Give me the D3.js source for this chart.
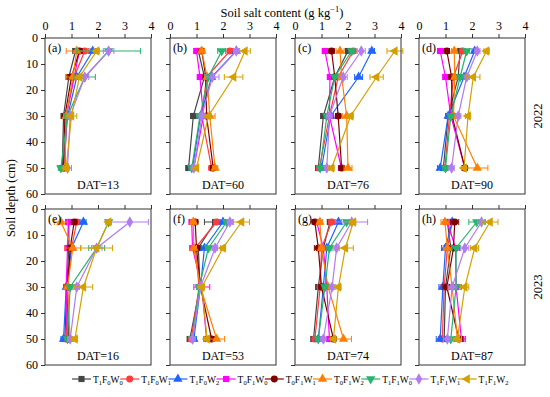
<!DOCTYPE html>
<html>
<head>
<meta charset="utf-8">
<script src="https://cdn.jsdelivr.net/npm/d3@7"></script>
<style>
  body { margin: 0; background: #fff; }
  svg text { font-family: "Liberation Serif", "DejaVu Serif", serif; fill: #000; }
</style>
</head>
<body>
<svg width="550" height="397"></svg>
<script>
// depths (cm) and series
var depths = [5, 15, 30, 50];
var seriesNames = [["1","0","0"],["1","0","1"],["1","0","2"],["0","1","0"],["0","1","1"],["0","1","2"],["1","1","0"],["1","1","1"],["1","1","2"]];
var seriesColors = ["#454545","#ff3b3b","#1f64ff","#ff00ff","#800000","#ff8000","#26b36b","#b07cf0","#d4a000"];
var panelTags = ["(a)","(b)","(c)","(d)","(e)","(f)","(g)","(h)"];
var datDays = [13, 60, 76, 90, 16, 53, 74, 87];
var xTicks = [0, 1, 2, 3, 4];
var yTicks = [0, 10, 20, 30, 40, 50, 60];

// mean salt content, one row per series, columns = depths
var meanA = [[1.15,0.9,0.7,0.65],[1.5,1.1,0.8,0.75],[1.8,1.2,0.85,0.7],[1.3,1.1,0.8,0.75],[1.3,1.0,0.75,0.7],[1.2,1.05,0.8,0.75],[2.4,1.5,0.85,0.6],[2.4,1.5,0.95,0.85],[1.95,1.3,1.0,0.8]];
var errA  = [[0.1,0.1,0.05,0.05],[0.15,0.1,0.05,0.05],[0.1,0.1,0.05,0.05],[0.1,0.1,0.05,0.05],[0.1,0.1,0.05,0.05],[0.4,0.25,0.1,0.1],[1.2,0.4,0.1,0.1],[0.2,0.15,0.1,0.15],[0.1,0.1,0.2,0.1]];
var meanB = [[1.07,1.3,0.88,0.7],[2.26,1.38,1.2,1.57],[2.5,1.57,1.15,0.85],[1.0,1.13,1.26,0.9],[1.2,1.35,1.38,1.63],[1.2,1.4,1.5,1.7],[1.95,1.45,1.13,0.82],[2.5,1.6,1.2,0.9],[2.83,2.4,1.45,1.0]];
var errB  = [[0.1,0.1,0.1,0.1],[0.1,0.1,0.1,0.1],[0.1,0.1,0.1,0.1],[0.1,0.1,0.1,0.1],[0.1,0.1,0.1,0.1],[0.1,0.1,0.2,0.1],[0.15,0.1,0.1,0.1],[0.1,0.25,0.1,0.1],[0.2,0.35,0.1,0.05]];
var meanC = [[2.0,1.5,1.07,0.88],[2.2,1.63,1.3,0.92],[2.9,2.4,1.35,1.0],[1.13,1.32,1.3,1.75],[1.38,1.5,1.63,1.76],[1.7,1.76,1.95,2.0],[2.14,1.5,1.2,0.95],[2.5,1.82,1.3,1.2],[3.77,3.08,2.1,1.38]];
var errC  = [[0.1,0.1,0.1,0.1],[0.1,0.1,0.1,0.1],[0.1,0.15,0.1,0.1],[0.1,0.1,0.1,0.1],[0.1,0.1,0.1,0.1],[0.15,0.1,0.15,0.15],[0.1,0.1,0.1,0.1],[0.15,0.15,0.1,0.1],[0.3,0.25,0.1,0.1]];
var meanD = [[1.55,1.48,1.1,0.92],[1.65,1.3,1.15,0.98],[2.1,1.7,1.1,0.8],[0.8,1.0,1.2,1.73],[1.05,1.23,1.25,1.73],[1.33,1.35,1.3,2.2],[1.8,1.55,1.2,1.0],[2.2,1.8,1.48,1.23],[2.55,2.05,1.85,1.7]];
var errD  = [[0.1,0.1,0.1,0.1],[0.1,0.1,0.1,0.1],[0.1,0.1,0.1,0.1],[0.1,0.1,0.1,0.1],[0.1,0.1,0.1,0.1],[0.1,0.1,0.1,0.4],[0.1,0.1,0.1,0.1],[0.1,0.1,0.1,0.1],[0.1,0.25,0.1,0.1]];
var meanE = [[0.9,0.9,0.82,0.75],[1.2,1.0,0.85,0.8],[1.45,1.0,0.8,0.7],[0.88,0.85,0.8,0.85],[1.1,0.95,0.85,0.9],[0.6,1.05,0.85,0.95],[2.4,1.95,0.95,0.85],[3.2,1.95,1.2,0.95],[2.4,1.95,1.45,1.13]];
var errE  = [[0.1,0.1,0.1,0.1],[0.1,0.1,0.1,0.1],[0.1,0.1,0.1,0.1],[0.1,0.1,0.1,0.1],[0.1,0.1,0.1,0.1],[0.25,0.3,0.1,0.1],[0.1,0.3,0.1,0.1],[0.7,0.2,0.1,0.1],[0.1,0.6,0.35,0.1]];
var meanF = [[1.7,1.07,1.13,0.75],[1.76,0.95,1.1,0.8],[2.0,1.3,1.15,0.9],[0.82,0.85,1.2,1.38],[0.95,1.0,1.15,1.57],[0.88,0.9,1.15,1.76],[2.14,1.45,1.1,0.85],[2.26,1.7,1.15,0.85],[2.7,2.0,1.2,1.4]];
var errF  = [[0.4,0.1,0.1,0.1],[0.1,0.1,0.1,0.1],[0.1,0.1,0.1,0.1],[0.1,0.1,0.3,0.1],[0.1,0.1,0.1,0.1],[0.1,0.1,0.1,0.3],[0.1,0.1,0.1,0.1],[0.1,0.1,0.1,0.1],[0.3,0.1,0.1,0.1]];
var meanG = [[1.32,1.07,0.88,0.7],[1.38,1.0,0.95,0.75],[1.64,1.2,1.07,0.88],[0.82,1.07,1.2,1.3],[0.75,0.88,1.0,1.45],[0.94,1.0,1.25,1.83],[1.95,1.3,1.13,0.88],[2.14,1.57,1.4,1.07],[2.2,1.9,1.64,1.45]];
var errG  = [[0.1,0.1,0.1,0.1],[0.1,0.1,0.1,0.1],[0.1,0.1,0.1,0.1],[0.1,0.1,0.1,0.1],[0.1,0.15,0.1,0.1],[0.1,0.1,0.1,0.3],[0.1,0.1,0.1,0.1],[0.6,0.1,0.1,0.1],[0.1,0.3,0.1,0.1]];
var meanH = [[1.07,1.2,1.0,0.95],[1.25,1.07,0.95,0.88],[1.25,1.0,0.9,0.8],[1.07,1.38,1.4,1.6],[1.35,1.3,1.05,1.5],[0.98,1.07,1.25,1.45],[2.18,1.4,1.4,1.2],[2.36,1.73,1.25,1.07],[2.68,2.1,1.73,1.45]];
var errH  = [[0.15,0.15,0.15,0.15],[0.15,0.15,0.15,0.15],[0.15,0.15,0.15,0.15],[0.15,0.15,0.2,0.15],[0.15,0.15,0.15,0.15],[0.15,0.15,0.15,0.15],[0.3,0.15,0.15,0.15],[0.15,0.15,0.15,0.15],[0.3,0.15,0.15,0.15]];

var panelMeans = [meanA, meanB, meanC, meanD, meanE, meanF, meanG, meanH];
var panelErrs = [errA, errB, errC, errD, errE, errF, errG, errH];

var svg = d3.select("svg");
var colLeft = [45, 170, 295, 419],
    rowTop = [38, 209],
    pw = 106, ph = 156;

var x = d3.scaleLinear().domain([0, 4]).range([0, pw]);
var y = d3.scaleLinear().domain([0, 60]).range([0, ph]);

var symbols = [
  {t: d3.symbolSquare, r: 0}, {t: d3.symbolCircle, r: 0}, {t: d3.symbolTriangle, r: 0},
  {t: d3.symbolSquare, r: 0}, {t: d3.symbolCircle, r: 0}, {t: d3.symbolTriangle, r: 0},
  {t: d3.symbolTriangle, r: 180}, {t: d3.symbolDiamond, r: 0}, {t: d3.symbolTriangle, r: -90}
];
var symSize = 38;

function draw_panel(p) {
  var row = Math.floor(p / 4), col = p % 4;
  var g = svg.append("g")
      .attr("transform", "translate(" + colLeft[col] + "," + rowTop[row] + ")");

  var means = panelMeans[p], errs = panelErrs[p];

  // top axis
  var top = g.append("g").call(d3.axisTop(x).tickValues(xTicks).tickSize(4).tickFormat(row == 0 ? d3.format("d") : ""));
  top.select(".domain").remove();
  top.selectAll("text").attr("font-size", 12).attr("font-family", "Liberation Serif").attr("dy", "-0.1em");
  top.selectAll("line").attr("stroke", "#333");

  var left = g.append("g").call(d3.axisLeft(y).tickValues(yTicks).tickSize(4).tickFormat(col == 0 ? d3.format("d") : ""));
  left.select(".domain").remove();
  left.selectAll("text").attr("font-size", 12).attr("font-family", "Liberation Serif");
  left.selectAll("line").attr("stroke", "#333");

  var line = d3.line()
      .x(function(d) { return x(d[0]); })
      .y(function(d) { return y(d[1]); });

  means.forEach(function(vals, s) {
    var pts = vals.map(function(v, i) { return [v, depths[i], errs[s][i]]; });
    var sg = g.append("g");
    sg.append("path")
        .datum(pts)
        .attr("fill", "none")
        .attr("stroke", seriesColors[s])
        .attr("stroke-width", 1.2)
        .attr("d", line);
    pts.forEach(function(d) {
      var x0 = x(d[0] - d[2]), x1 = x(d[0] + d[2]), yy = y(d[1]);
      sg.append("path")
          .attr("fill", "none")
          .attr("stroke", seriesColors[s])
          .attr("stroke-width", 1)
          .attr("d", "M" + x0 + "," + yy + "H" + x1 +
                     "M" + x0 + "," + (yy - 3) + "V" + (yy + 3) +
                     "M" + x1 + "," + (yy - 3) + "V" + (yy + 3));
      sg.append("path")
          .attr("d", d3.symbol().type(symbols[s].t).size(symSize)())
          .attr("fill", seriesColors[s])
          .attr("transform", "translate(" + x(d[0]) + "," + yy + ") rotate(" + symbols[s].r + ")");
    });
  });

  g.append("rect")
      .attr("width", pw).attr("height", ph)
      .attr("fill", "none").attr("stroke", "#333").attr("stroke-width", 1);

  g.append("text")
      .attr("x", 3).attr("y", 14)
      .attr("font-size", 12)
      .text(panelTags[p]);

  g.append("text")
      .attr("x", pw / 2).attr("y", ph - 5)
      .attr("text-anchor", "middle")
      .attr("font-size", 12)
      .text("DAT=" + datDays[p]);
}

for (var p = 0; p < 8; p++) draw_panel(p);

// titles
var title = svg.append("text")
    .attr("x", 282).attr("y", 17)
    .attr("text-anchor", "middle")
    .attr("font-size", 12.5);
title.append("tspan").text("Soil salt content (g kg");
title.append("tspan").attr("dy", -5).attr("font-size", 8.5).text("\u22121");
title.append("tspan").attr("dy", 5).text(")");

svg.append("text")
    .attr("transform", "translate(15,198) rotate(-90)")
    .attr("text-anchor", "middle")
    .attr("font-size", 12.5)
    .text("Soil depth (cm)");

["2022", "2023"].forEach(function(t, i) {
  svg.append("text")
      .attr("transform", "translate(542," + (rowTop[i] + ph / 2) + ") rotate(-90)")
      .attr("text-anchor", "middle")
      .attr("font-size", 12.5)
      .text(t);
});

// legend
var legY = 379;
seriesNames.forEach(function(n, s) {
  var lx = 72 + s * 48.2;
  var lg = svg.append("g").attr("transform", "translate(" + lx + "," + legY + ")");
  lg.append("line").attr("x1", 0).attr("x2", 19).attr("stroke", seriesColors[s]).attr("stroke-width", 1.2);
  lg.append("path")
      .attr("d", d3.symbol().type(symbols[s].t).size(symSize)())
      .attr("fill", seriesColors[s])
      .attr("transform", "translate(9.5,0) rotate(" + symbols[s].r + ")");
  var t = lg.append("text").attr("x", 21).attr("y", 3.5).attr("font-size", 9.5);
  t.append("tspan").text("T");
  t.append("tspan").attr("dy", 2).attr("font-size", 6.5).text(n[0]);
  t.append("tspan").attr("dy", -2).text("F");
  t.append("tspan").attr("dy", 2).attr("font-size", 6.5).text(n[1]);
  t.append("tspan").attr("dy", -2).text("W");
  t.append("tspan").attr("dy", 2).attr("font-size", 6.5).text(n[2]);
});
</script>
</body>
</html>
